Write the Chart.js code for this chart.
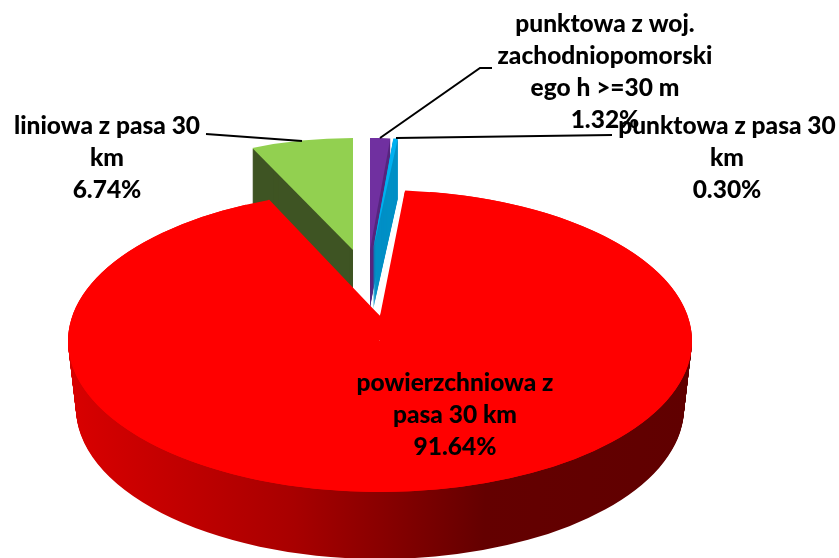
<!DOCTYPE html>
<html>
<head>
<meta charset="utf-8">
<title>Pie</title>
<script src="https://cdn.jsdelivr.net/npm/chart.js@4/dist/chart.umd.min.js"></script>
<style>
    html, body { margin: 0; padding: 0; background: #fff; }
    canvas { display: block; }
</style>
</head>
<body>
<canvas id="pie" width="839" height="558"></canvas>
<script>
// Data
const categories = [
    ['punktowa z woj.', 'zachodniopomorski', 'ego h >=30 m'],
    ['punktowa z pasa 30', 'km'],
    ['powierzchniowa z', 'pasa 30 km'],
    ['liniowa z pasa 30', 'km']
];
const shares = [1.32, 0.30, 91.64, 6.74];

// Colours of the faces
const topColors = ['#7030a0', '#00b0f0', '#ff0000', '#92d050'];
const wallColors = ['#57277f', '#0090c6', null, '#3e5423'];

// Every slice has its own projected ellipse (the original is a 3D pie with perspective)
// passes: the ellipses of the top face, depth/shrink: the side wall going down
// band: only paint that part of the pass (the pulled up tip of the big slice)
const tipBand = { x: 268, y: 190, w: 137, h: 150 };
const sliceViews = [
    { passes: [{ cx: 370, cy: 250, rx: 245, ry: 112, rot: 0 }], depth: 58, shrink: 0 },
    { passes: [{ cx: 373, cy: 250, rx: 245, ry: 112, rot: 0 }], depth: 60, shrink: 0 },
    {
        passes: [
            { cx: 380, cy: 341, rx: 312, ry: 151, rot: -1.2 },
            { cx: 380, cy: 341, rx: 312, ry: 151, rot: 3.4 },
            { cx: 380, cy: 316, rx: 300, ry: 125, rot: -1.1, band: tipBand },
            { cx: 380, cy: 316, rx: 300, ry: 125, rot: 2.6, band: tipBand }
        ],
        depth: 67,
        shrink: 8
    },
    { passes: [{ cx: 353, cy: 250, rx: 245, ry: 112, rot: 0 }], depth: 60, shrink: 0 }
];
const drawOrder = [3, 0, 1, 2];

// Data label blocks and their leader lines
const labelBoxes = [
    { x: 605, y: 24 },
    { x: 727, y: 126 },
    { x: 455, y: 383 },
    { x: 107, y: 126 }
];
const lineHeight = 32;
const leaders = [
    [[492, 68], [480, 68], [380, 138]],
    [[612, 135], [396, 138]],
    null,
    [[206, 134], [302, 141]]
];

function placeSlice(ctx, arc, view, drop, shrink) {
    const R = arc.outerRadius;
    ctx.translate(view.cx, view.cy + drop);
    ctx.scale((view.rx - shrink) / R, view.ry / R);
    ctx.rotate(view.rot * Math.PI / 180);
    ctx.translate(-arc.x, -arc.y);
}

function paintArc(ctx, arc, color, view, drop, shrink) {
    const saved = arc.options;
    arc.options = Object.assign({}, saved, { backgroundColor: color });
    ctx.save();
    if (view.band) {
        ctx.beginPath();
        ctx.rect(view.band.x, view.band.y, view.band.w, view.band.h);
        ctx.clip();
    }
    placeSlice(ctx, arc, view, drop, shrink);
    arc.draw(ctx);
    ctx.restore();
    arc.options = saved;
}

const pie3d = {
    id: 'pie3d',
    beforeDatasetsDraw(chart) {
        const ctx = chart.ctx;
        const arcs = chart.getDatasetMeta(0).data;

        drawOrder.forEach(i => {
            const arc = arcs[i];
            const view = sliceViews[i];
            const base = view.passes[0];

            // side wall
            let wall = wallColors[i];
            if (!wall) {
                wall = ctx.createLinearGradient(arc.x - arc.outerRadius, 0, arc.x + arc.outerRadius, 0);
                wall.addColorStop(0, '#d80000');
                wall.addColorStop(0.35, '#a80000');
                wall.addColorStop(0.66, '#640000');
                wall.addColorStop(1, '#600000');
            }
            for (let d = view.depth; d > 0; d--) {
                paintArc(ctx, arc, wall, base, d, view.shrink * d / view.depth);
            }

            // top face
            view.passes.forEach(p => paintArc(ctx, arc, topColors[i], p, 0, 0));
        });
        return false;
    },
    afterDraw(chart) {
        const ctx = chart.ctx;
        ctx.save();

        ctx.strokeStyle = '#000';
        ctx.lineWidth = 2;
        leaders.forEach(pts => {
            if (!pts) return;
            ctx.beginPath();
            pts.forEach((p, n) => n ? ctx.lineTo(p[0], p[1]) : ctx.moveTo(p[0], p[1]));
            ctx.stroke();
        });

        ctx.fillStyle = '#000';
        ctx.font = '900 24.5px Lato';
        ctx.textAlign = 'center';
        ctx.textBaseline = 'middle';
        categories.forEach((lines, i) => {
            const box = labelBoxes[i];
            const rows = lines.concat(shares[i].toFixed(2) + '%');
            rows.forEach((row, n) => ctx.fillText(row, box.x, box.y + n * lineHeight));
        });
        ctx.restore();
    }
};

new Chart(document.getElementById('pie'), {
    type: 'pie',
    data: {
        labels: categories.map(c => c.join(' ')),
        datasets: [{
            data: shares,
            backgroundColor: topColors,
            borderWidth: 0
        }]
    },
    options: {
        responsive: false,
        animation: false,
        plugins: {
            legend: { display: false },
            tooltip: { enabled: false }
        }
    },
    plugins: [pie3d]
});
</script>
</body>
</html>
